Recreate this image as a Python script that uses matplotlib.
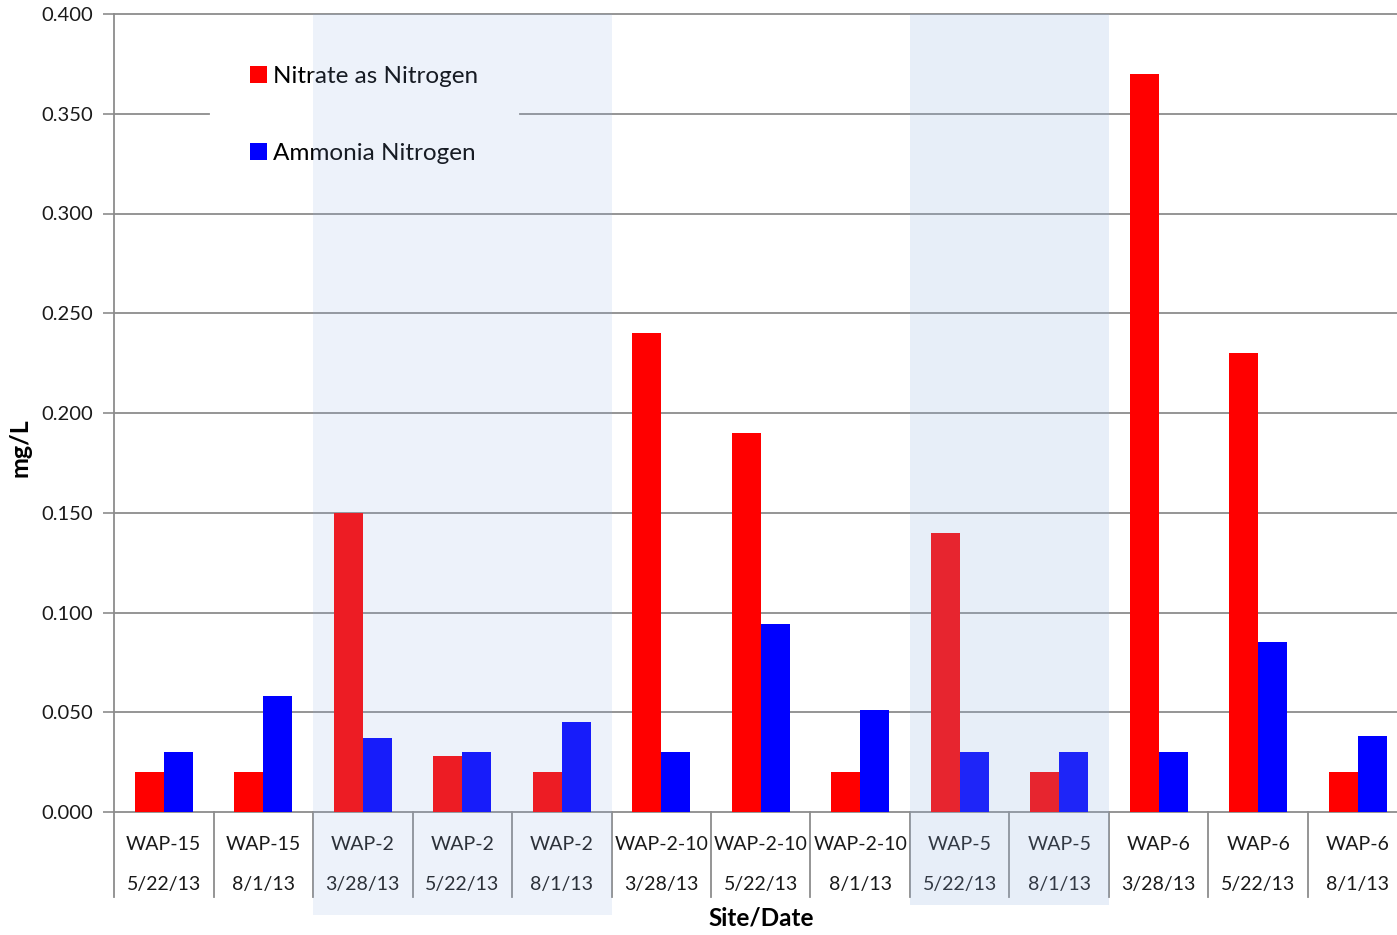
import numpy as np
import matplotlib
matplotlib.use("Agg")
import matplotlib.pyplot as plt
from matplotlib.patches import Rectangle
import matplotlib.transforms as mtransforms

plt.rcParams['font.family'] = ['Lato', 'DejaVu Sans']

sites = ['WAP-15', 'WAP-15', 'WAP-2', 'WAP-2', 'WAP-2', 'WAP-2-10', 'WAP-2-10',
         'WAP-2-10', 'WAP-5', 'WAP-5', 'WAP-6', 'WAP-6', 'WAP-6']
dates = ['5/22/13', '8/1/13', '3/28/13', '5/22/13', '8/1/13', '3/28/13', '5/22/13',
         '8/1/13', '5/22/13', '8/1/13', '3/28/13', '5/22/13', '8/1/13']
nitrate = [0.020, 0.020, 0.150, 0.028, 0.020, 0.240, 0.190, 0.020, 0.140, 0.020, 0.370, 0.230, 0.020]
ammonia = [0.030, 0.058, 0.037, 0.030, 0.045, 0.030, 0.094, 0.051, 0.030, 0.030, 0.030, 0.085, 0.038]
yticks = [0.0, 0.05, 0.10, 0.15, 0.20, 0.25, 0.30, 0.35, 0.40]

grid_c = '#8c8c8c'
x = np.arange(len(sites))
w = 0.29
axw = 1293.5  # plot area runs a little past the right edge of the image

fig = plt.figure(figsize=(13.97, 9.35), dpi=100)
ax = fig.add_axes([114/1397, 1-812/935, axw/1397, (812-14)/935])

ax.bar(x - w/2, nitrate, w, color='#ff0000', label='Nitrate as Nitrogen', zorder=3)
ax.bar(x + w/2, ammonia, w, color='#0000ff', label='Ammonia Nitrogen', zorder=3)

ax.set_xlim(-0.5, len(sites) - 0.5)
ax.set_ylim(0, 0.4)
ax.set_yticks(yticks)
ax.set_yticklabels(['%.3f' % v for v in yticks], fontsize=14.5, color='#1a1a1a')
ax.tick_params(axis='y', length=8, color=grid_c, width=1.2, pad=7)
ax.set_xticks(x)
ax.set_xticklabels([s + '\n' + d for s, d in zip(sites, dates)], fontsize=14,
                   linespacing=2.7, color='#1a1a1a')
ax.tick_params(axis='x', length=0, pad=17)
for sp in ['top', 'right']:
    ax.spines[sp].set_visible(False)
for sp in ['left', 'bottom']:
    ax.spines[sp].set_color(grid_c)
    ax.spines[sp].set_linewidth(1.3)

leg = ax.legend(loc='upper left', bbox_to_anchor=((209-114)/axw, 1-(25-14)/798),
                frameon=False, fontsize=17.5, handlelength=0.68, handleheight=0.68,
                handletextpad=0.25, labelspacing=2.3, borderpad=1.7, borderaxespad=0)

# gridlines, broken where the legend sits
fig.canvas.draw()
bb = leg.get_window_extent().transformed(ax.transAxes.inverted())
for y in yticks[1:]:
    ya = y / 0.4
    if bb.y0 < ya < bb.y1:
        ax.axhline(y, xmax=(209-114)/axw, color=grid_c, lw=1.3, zorder=1)
        ax.axhline(y, xmin=(520-114)/axw, color=grid_c, lw=1.3, zorder=1)
    else:
        ax.axhline(y, color=grid_c, lw=1.3, zorder=1, clip_on=False)

# category dividers under the axis
blend = mtransforms.blended_transform_factory(ax.transData, ax.transAxes)
for b in np.arange(-0.5, len(sites)):
    ax.plot([b, b], [0, -85/798], transform=blend, color=grid_c, lw=1.3, clip_on=False)

# shaded site bands
ax.add_patch(Rectangle((1.5, -103/798), 3.0, 1 + 103/798, transform=blend,
                       facecolor='#90afe1', alpha=0.16, edgecolor='none',
                       clip_on=False, zorder=10))
ax.add_patch(Rectangle((7.5, -93/798), 2.0, 1 + 93/798, transform=blend,
                       facecolor='#90afe1', alpha=0.21, edgecolor='none',
                       clip_on=False, zorder=10))

fig.text(20/1397, 1-448/935, 'mg/L', rotation=90, fontsize=18, fontweight='bold',
         ha='center', va='center')
fig.text(761/1397, 1-918/935, 'Site/Date', fontsize=17.5, fontweight='bold',
         ha='center', va='center')

fig.savefig('out.png', dpi=100)
